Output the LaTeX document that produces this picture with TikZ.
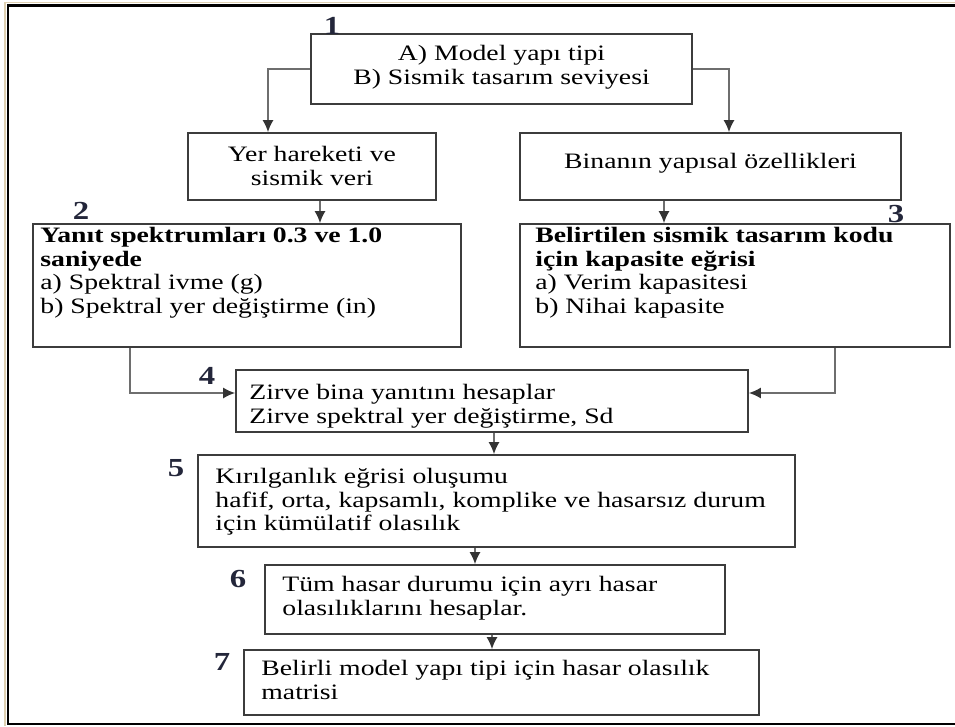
\documentclass[tikz,border=0pt]{standalone}
\usepackage{fontspec}
\setmainfont{Liberation Serif}[FakeStretch=1.26]
\usetikzlibrary{arrows.meta}
\usetikzlibrary{positioning}

\definecolor{linegray}{RGB}{110,110,110}
\definecolor{boxgray}{RGB}{60,60,60}
\definecolor{numblue}{RGB}{35,38,58}
\definecolor{edgetan}{RGB}{222,208,178}

\begin{document}
\begin{tikzpicture}[
    x=1pt, y=-1pt,
    % Define box and text styles
    box/.style={draw=boxgray, line width=1.6pt, inner sep=0pt},
    txt/.style={font=\fontsize{22}{23.5}\selectfont, inner sep=0pt, align=left},
    num/.style={font=\fontsize{26}{26}\selectfont\bfseries, text=numblue, inner sep=0pt},
    % Define connector style
    arr/.style={draw=linegray, line width=1.8pt, -{Latex[length=12pt, width=11pt, color=black!80]}}
]

\useasboundingbox (0,0) rectangle (955,726);

% Outer frame (right side is cut off)
\draw[edgetan, line width=1.5pt] (955,2.5) -- (5,2.5) -- (5,726);
\draw[black, line width=2.5pt] (955,5.5) -- (8,5.5) -- (8,724) -- (955,724);

% Boxes
\node[box, minimum width=381pt, minimum height=70pt] (mdl) at (501.5,69) {};
\node[box, minimum width=248pt, minimum height=67pt] (yer) at (312,166.5) {};
\node[box, minimum width=381pt, minimum height=67pt] (bina) at (710.5,166.5) {};
\node[box, minimum width=428pt, minimum height=123pt] (spk) at (247,285.5) {};
\node[box, minimum width=430pt, minimum height=123pt] (kap) at (735,285.5) {};
\node[box, minimum width=512pt, minimum height=62pt] (zrv) at (492,401) {};
\node[box, minimum width=597pt, minimum height=92pt] (krl) at (496.5,501) {};
\node[box, minimum width=460pt, minimum height=69pt] (hsr) at (495,599.5) {};
\node[box, minimum width=515pt, minimum height=65pt] (mtr) at (501.5,682.5) {};

% Box texts
\node[txt, align=center, anchor=north] (mdltxt) at ([yshift=-12pt]mdl.north)
    {A) Model yapı tipi\\B) Sismik tasarım seviyesi};
\node[txt, align=center, anchor=north] (yertxt) at ([yshift=-14pt]yer.north)
    {Yer hareketi ve\\sismik veri};
\node[txt, align=center, anchor=north] (binatxt) at ([yshift=-21pt]bina.north)
    {Binanın yapısal özellikleri};
\node[txt, anchor=north west] (spktxt) at ([shift={(8pt,-4pt)}]spk.north west)
    {\textbf{Yanıt spektrumları 0.3 ve 1.0}\\\textbf{saniyede}\\a) Spektral ivme (g)\\b) Spektral yer değiştirme (in)};
\node[txt, anchor=north west] (kaptxt) at ([shift={(16pt,-4pt)}]kap.north west)
    {\textbf{Belirtilen sismik tasarım kodu}\\\textbf{için kapasite eğrisi}\\a) Verim kapasitesi\\b) Nihai kapasite};
\node[txt, anchor=north west] (zrvtxt) at ([shift={(14pt,-15pt)}]zrv.north west)
    {Zirve bina yanıtını hesaplar\\Zirve spektral yer değiştirme, Sd};
\node[txt, anchor=north west] (krltxt) at ([shift={(18pt,-14pt)}]krl.north west)
    {Kırılganlık eğrisi oluşumu\\hafif, orta, kapsamlı, komplike ve hasarsız durum\\için kümülatif olasılık};
\node[txt, anchor=north west] (hsrtxt) at ([shift={(18pt,-12pt)}]hsr.north west)
    {Tüm hasar durumu için ayrı hasar\\olasılıklarını hesaplar.};
\node[txt, anchor=north west] (mtrtxt) at ([shift={(18pt,-11pt)}]mtr.north west)
    {Belirli model yapı tipi için hasar olasılık\\matrisi};

% Step numbers
\node[num] (n1) at (332,26) {1};
\node[num] (n2) at (81,211) {2};
\node[num] (n3) at (896,214) {3};
\node[num] (n4) at (207,376) {4};
\node[num] (n5) at (176,468) {5};
\node[num] (n6) at (238,579) {6};
\node[num] (n7) at (222,662) {7};

% Connectors
\draw[arr] (mdl.west) -| ([xshift=-44pt]yer.north);
\draw[arr] (mdl.east) -| ([xshift=18.5pt]bina.north);
\draw[arr] ([xshift=8pt]yer.south) -- ([xshift=8pt]yer.south |- spk.north);
\draw[arr] ([xshift=-46.5pt]bina.south) -- ([xshift=-46.5pt]bina.south |- kap.north);
\draw[arr] ([xshift=-117pt]spk.south) |- ([yshift=8pt]zrv.west);
\draw[arr] ([xshift=100pt]kap.south) |- ([yshift=8pt]zrv.east);
\draw[arr] ([xshift=2pt]zrv.south) -- ([xshift=2pt]zrv.south |- krl.north);
\draw[arr] ([xshift=-21.5pt]krl.south) -- ([xshift=-21.5pt]krl.south |- hsr.north);
\draw[arr] ([xshift=-3pt]hsr.south) -- ([xshift=-3pt]hsr.south |- mtr.north);

\end{tikzpicture}
\end{document}
